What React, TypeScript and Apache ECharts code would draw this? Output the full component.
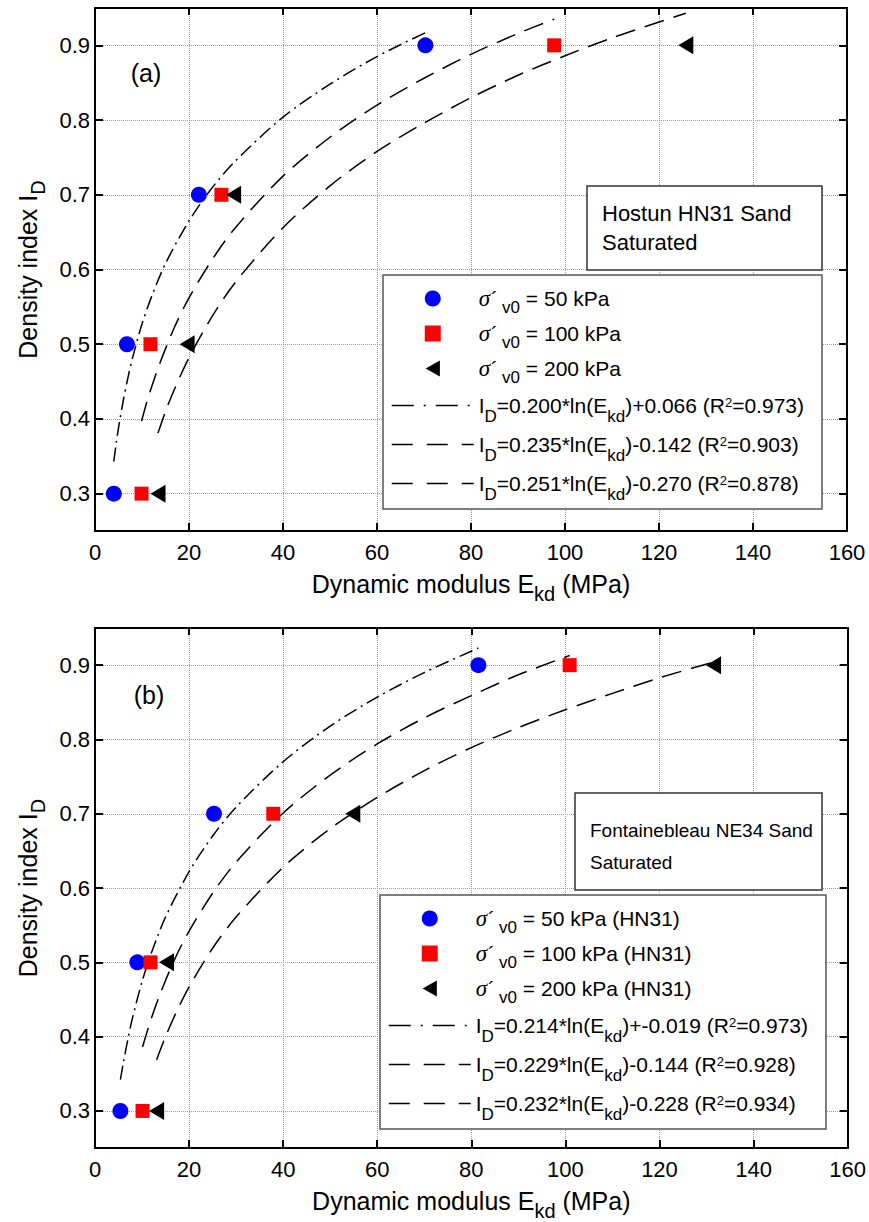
import React, { useEffect, useRef } from 'react';
import * as echarts from 'echarts';

const FONT = "'Liberation Sans', Arial, Helvetica, sans-serif";
const SERIF = "'Liberation Serif', 'Times New Roman', serif";

// axis ticks
const xTickMin = 0;
const xTickMax = 160;
const xTickStep = 20;
const yTicks = [0.3, 0.4, 0.5, 0.6, 0.7, 0.8, 0.9];
const yMin = 0.25;
const yMax = 0.95;

// density index levels of the tests
const densityLevels = [0.3, 0.5, 0.7, 0.9];

// ---- Panel (a): Hostun HN31 sand, measured Ekd (MPa)
const aEkd50 = [4.0, 6.8, 22.1, 70.3];
const aEkd100 = [9.9, 11.8, 26.9, 97.7];
const aEkd200 = [13.4, 19.6, 29.5, 125.7];

// fitted curves
const aFit1E = [4.0, 4.5, 5, 6, 7, 8, 10, 12, 15, 20, 25, 30, 40, 50, 60, 70.3];
const aFit1I = [0.343, 0.367, 0.388, 0.424, 0.455, 0.482, 0.527, 0.563, 0.608, 0.665, 0.71, 0.746, 0.804, 0.848, 0.885, 0.917];
const aFit2E = [9.9, 11, 12, 14, 17, 20, 25, 30, 40, 50, 60, 70, 80, 90, 97.7];
const aFit2I = [0.397, 0.422, 0.442, 0.478, 0.524, 0.562, 0.614, 0.657, 0.725, 0.777, 0.82, 0.856, 0.888, 0.916, 0.935];
const aFit3E = [13.4, 15, 17, 20, 25, 30, 40, 50, 60, 70, 80, 90, 100, 110, 125.7];
const aFit3I = [0.381, 0.41, 0.441, 0.482, 0.538, 0.584, 0.656, 0.712, 0.758, 0.796, 0.83, 0.86, 0.886, 0.91, 0.943];

// ---- Panel (b): Fontainebleau NE34 sand
const bEkd50 = [5.4, 9.0, 25.3, 81.5];
const bEkd100 = [10.1, 11.8, 37.9, 100.9];
const bEkd200 = [13.1, 15.2, 54.8, 131.5];

const bFit1E = [5.4, 6, 7, 8, 10, 12, 15, 20, 25, 30, 40, 50, 60, 70, 81.5];
const bFit1I = [0.342, 0.364, 0.397, 0.426, 0.474, 0.513, 0.561, 0.622, 0.67, 0.709, 0.77, 0.818, 0.857, 0.89, 0.923];
const bFit2E = [10.1, 11, 12, 14, 17, 20, 25, 30, 40, 50, 60, 70, 80, 90, 100.9];
const bFit2I = [0.386, 0.405, 0.425, 0.46, 0.505, 0.542, 0.593, 0.635, 0.701, 0.752, 0.794, 0.829, 0.859, 0.887, 0.913];
const bFit3E = [13.1, 15, 17, 20, 25, 30, 40, 50, 60, 70, 80, 90, 100, 110, 120, 131.5];
const bFit3I = [0.369, 0.4, 0.429, 0.467, 0.519, 0.561, 0.628, 0.68, 0.722, 0.758, 0.789, 0.816, 0.84, 0.862, 0.883, 0.904];

// legend names (plain) and their rich-text forms
const aNames = [
  'σ´v0 = 50 kPa',
  'σ´v0 = 100 kPa',
  'σ´v0 = 200 kPa',
  'ID=0.200*ln(Ekd)+0.066 (R2=0.973)',
  'ID=0.235*ln(Ekd)-0.142 (R2=0.903)',
  'ID=0.251*ln(Ekd)-0.270 (R2=0.878)',
];
const bNames = [
  'σ´v0 = 50 kPa (HN31)',
  'σ´v0 = 100 kPa (HN31)',
  'σ´v0 = 200 kPa (HN31)',
  'ID=0.214*ln(Ekd)+-0.019 (R2=0.973)',
  'ID=0.229*ln(Ekd)-0.144 (R2=0.928)',
  'ID=0.232*ln(Ekd)-0.228 (R2=0.934)',
];
const sigmaRich = (rest: string) => `{g|σ}{a|´}{sv|v0}{m| ${rest}}`;
const eqRich = (a: string, b: string, r: string) =>
  `{m|I}{se|D}{m|=${a}*ln(E}{se|kd}{m|)${b} (R}{p|2}{m|=${r})}`;
const richLabels: Record<string, string> = {
  [aNames[0]]: sigmaRich('= 50 kPa'),
  [aNames[1]]: sigmaRich('= 100 kPa'),
  [aNames[2]]: sigmaRich('= 200 kPa'),
  [aNames[3]]: eqRich('0.200', '+0.066', '0.973'),
  [aNames[4]]: eqRich('0.235', '-0.142', '0.903'),
  [aNames[5]]: eqRich('0.251', '-0.270', '0.878'),
  [bNames[0]]: sigmaRich('= 50 kPa (HN31)'),
  [bNames[1]]: sigmaRich('= 100 kPa (HN31)'),
  [bNames[2]]: sigmaRich('= 200 kPa (HN31)'),
  [bNames[3]]: eqRich('0.214', '+-0.019', '0.973'),
  [bNames[4]]: eqRich('0.229', '-0.144', '0.928'),
  [bNames[5]]: eqRich('0.232', '-0.228', '0.934'),
};

const TRIANGLE = 'path://M0,9L16,0L16,18Z';
const SQUARE = 'path://M0,0H14V14H0Z';

const zip = (xs: number[], ys: number[]) => xs.map((x, i) => [x, ys[i]]);

const axisLineStyle = { color: '#000', width: 2 };
const gridLineStyle = { color: '#9a9a9a', type: 'dotted' as const, width: 1 };

const nameRich = {
  m: { fontSize: 25, lineHeight: 28, fontFamily: FONT, color: '#000' },
  s: { fontSize: 20, lineHeight: 12, padding: [20, 0, 0, 0], fontFamily: FONT, color: '#000' },
};

function axesFor(gi: number) {
  const xs = [
    {
      type: 'value', gridIndex: gi, position: 'bottom',
      min: xTickMin, max: xTickMax, interval: xTickStep,
      axisLine: { show: true, onZero: false, lineStyle: axisLineStyle },
      axisTick: { show: true, inside: true, length: 8, lineStyle: axisLineStyle },
      axisLabel: { margin: 10, fontSize: 22, color: '#000', fontFamily: FONT },
      splitLine: { show: true, lineStyle: gridLineStyle },
      name: '{m|Dynamic modulus E}{s|kd}{m| (MPa)}',
      nameLocation: 'middle', nameGap: 34,
      nameTextStyle: { color: '#000', fontSize: 25, fontFamily: FONT, rich: nameRich },
    },
    {
      type: 'value', gridIndex: gi, position: 'top',
      min: xTickMin, max: xTickMax, interval: xTickStep,
      axisLine: { show: true, onZero: false, lineStyle: axisLineStyle },
      axisTick: { show: true, inside: true, length: 7, lineStyle: axisLineStyle },
      axisLabel: { show: false },
      splitLine: { show: false },
    },
  ];
  const ys = [
    {
      type: 'value', gridIndex: gi, position: 'left',
      min: yMin, max: yMax, splitNumber: 7,
      axisLine: { show: true, onZero: false, lineStyle: axisLineStyle },
      axisTick: { show: true, inside: true, length: 8, lineStyle: axisLineStyle, customValues: yTicks },
      axisLabel: {
        margin: 5, fontSize: 22, color: '#000', fontFamily: FONT,
        customValues: yTicks, formatter: (v: number) => v.toFixed(1),
      },
      splitLine: { show: true, lineStyle: gridLineStyle },
      name: '{m|Density index I}{s|D}',
      nameLocation: 'middle', nameGap: 53,
      nameTextStyle: { color: '#000', fontSize: 25, fontFamily: FONT, rich: nameRich },
    },
    {
      type: 'value', gridIndex: gi, position: 'right',
      min: yMin, max: yMax, splitNumber: 7,
      axisLine: { show: true, onZero: false, lineStyle: axisLineStyle },
      axisTick: { show: true, inside: true, length: 8, lineStyle: axisLineStyle, customValues: yTicks },
      axisLabel: { show: false },
      splitLine: { show: false },
    },
  ];
  return { xs, ys };
}

function seriesFor(
  gi: number,
  names: string[],
  e50: number[], e100: number[], e200: number[],
  fits: [number[], number[]][],
) {
  const base = { xAxisIndex: gi * 2, yAxisIndex: gi * 2 };
  const scatter = [
    { ...base, type: 'scatter', name: names[0], data: zip(e50, densityLevels), symbol: 'circle', symbolSize: 16, itemStyle: { color: '#0000ff', opacity: 1 }, z: 3 },
    { ...base, type: 'scatter', name: names[1], data: zip(e100, densityLevels), symbol: 'rect', symbolSize: 14, itemStyle: { color: '#ff0000', opacity: 1 }, z: 4 },
    { ...base, type: 'scatter', name: names[2], data: zip(e200, densityLevels), symbol: TRIANGLE, symbolSize: [15, 18], itemStyle: { color: '#000', opacity: 1 }, z: 5 },
  ];
  const dashes = [[14, 5, 2, 5], [20, 10], [20, 10]];
  const lines = fits.map(([xs, ys], i) => ({
    ...base, type: 'line', name: names[3 + i], data: zip(xs, ys),
    smooth: 0.3, symbol: 'none', showSymbol: false, z: 2,
    lineStyle: { color: '#000', width: 1.5, type: dashes[i] },
    itemStyle: { color: '#000' },
  }));
  return [...scatter, ...lines];
}

function legendFor(names: string[], left: number, top: number) {
  const lineDash = [[22, 10, 2, 10], [21, 14], [21, 14]];
  return {
    orient: 'vertical', left, top,
    padding: [6, 18, 6, 8],
    itemWidth: 82, itemHeight: 16, itemGap: 0,
    backgroundColor: '#fff', borderColor: '#555', borderWidth: 1.5, borderRadius: 0,
    selectedMode: false,
    data: [
      { name: names[0], icon: 'circle' },
      { name: names[1], icon: SQUARE },
      { name: names[2], icon: TRIANGLE },
      ...[3, 4, 5].map((k, i) => ({
        name: names[k],
        itemStyle: { opacity: 0 },
        lineStyle: { color: '#000', width: 1.5, type: lineDash[i], opacity: 1 },
      })),
    ],
    formatter: (n: string) => richLabels[n] || n,
    textStyle: {
      color: '#000', fontSize: 21, fontFamily: FONT, lineHeight: 24,
      rich: {
        m: { fontSize: 21, lineHeight: 24, fontFamily: FONT, color: '#000' },
        g: { fontSize: 23, lineHeight: 24, fontFamily: SERIF, fontStyle: 'italic', color: '#000' },
        a: { fontSize: 21, lineHeight: 24, fontFamily: FONT, color: '#000', padding: [0, 2, 0, 1] },
        sv: { fontSize: 17, lineHeight: 14, padding: [18, 0, 0, 2], fontFamily: FONT, color: '#000' },
        se: { fontSize: 17, lineHeight: 10, padding: [22, 0, 0, 0], fontFamily: FONT, color: '#000' },
        p: { fontSize: 13, lineHeight: 10, padding: [0, 0, 6, 0], fontFamily: FONT, color: '#000' },
      },
    },
  };
}

function infoBox(x: number, y: number, w: number, h: number, text: string, tx: number, ty: number, fs: number, lh: number) {
  return [
    { type: 'rect', z: 10, shape: { x, y, width: w, height: h }, style: { fill: '#fff', stroke: '#333', lineWidth: 1.5 } },
    { type: 'text', z: 11, x: tx, y: ty, style: { text, fontSize: fs, lineHeight: lh, fontFamily: FONT, fill: '#000', verticalAlign: 'top' } },
  ];
}

export default function App() {
  const ref = useRef<HTMLDivElement>(null);
  useEffect(() => {
    if (!ref.current) return;
    const chart = echarts.init(ref.current, undefined, { renderer: 'svg' });
    const a = axesFor(0);
    const b = axesFor(1);
    const option: any = {
      animation: false,
      backgroundColor: '#fff',
      textStyle: { fontFamily: FONT },
      grid: [
        { left: 88, top: 8, width: 759, height: 523 },
        { left: 91, top: 628, width: 758, height: 524 },
      ],
      xAxis: [...a.xs, ...b.xs],
      yAxis: [...a.ys, ...b.ys],
      legend: [legendFor(aNames, 383, 275), legendFor(bNames, 380, 895)],
      series: [
        ...seriesFor(0, aNames, aEkd50, aEkd100, aEkd200, [[aFit1E, aFit1I], [aFit2E, aFit2I], [aFit3E, aFit3I]]),
        ...seriesFor(1, bNames, bEkd50, bEkd100, bEkd200, [[bFit1E, bFit1I], [bFit2E, bFit2I], [bFit3E, bFit3I]]),
      ],
      graphic: [
        { type: 'text', z: 11, x: 146, y: 73, style: { text: '(a)', fontSize: 25, fontFamily: FONT, fill: '#000', align: 'center', verticalAlign: 'middle' } },
        { type: 'text', z: 11, x: 149, y: 695, style: { text: '(b)', fontSize: 25, fontFamily: FONT, fill: '#000', align: 'center', verticalAlign: 'middle' } },
        ...infoBox(587, 186, 235, 84, 'Hostun HN31 Sand\nSaturated', 602, 198.5, 22, 29),
        ...infoBox(575, 793, 247, 97, 'Fontainebleau NE34 Sand\nSaturated', 590, 814, 19, 32),
      ],
    };
    chart.setOption(option);
    return () => chart.dispose();
  }, []);
  return (
    <div
      ref={ref}
      style={{ position: 'absolute', left: 0, top: 0, width: 869, height: 1222, background: '#fff' }}
    />
  );
}
